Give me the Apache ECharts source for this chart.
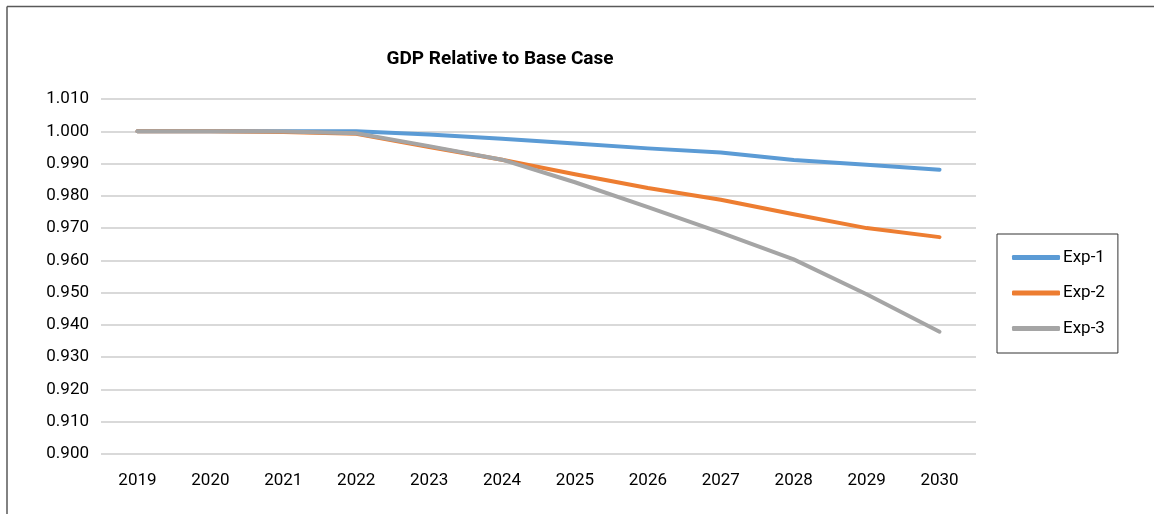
<!DOCTYPE html>
<html>
<head>
<meta charset="utf-8">
<script src="https://cdn.jsdelivr.net/npm/echarts@6/dist/echarts.min.js"></script>
<style>
  html, body { margin: 0; padding: 0; background: #ffffff; }
  #chart { width: 1154px; height: 514px; }
</style>
</head>
<body>
<div id="chart"></div>
<script>
// Years on the category axis
const years = ['2019', '2020', '2021', '2022', '2023', '2024', '2025', '2026', '2027', '2028', '2029', '2030'];

// GDP relative to the base case, per experiment
const exp1 = [1.000, 1.000, 1.000, 1.000, 0.999, 0.9977, 0.9962, 0.9947, 0.9934, 0.9911, 0.9896, 0.9881];
const exp2 = [1.000, 1.000, 0.9998, 0.9992, 0.9951, 0.9912, 0.9867, 0.9824, 0.9788, 0.9743, 0.970, 0.9672];
const exp3 = [1.000, 1.000, 0.9999, 0.9994, 0.9954, 0.9912, 0.9842, 0.9765, 0.9686, 0.9603, 0.9495, 0.9379];

const seriesNames = ['Exp-1', 'Exp-2', 'Exp-3'];
const seriesColors = ['#5b9bd5', '#ed7d31', '#a5a5a5'];

const FONT = 'Roboto, "Liberation Sans", sans-serif';

const chart = echarts.init(document.getElementById('chart'), null, { renderer: 'canvas' });

function lineSeries(name, data, color) {
  return {
    name: name,
    type: 'line',
    data: data,
    symbol: 'none',
    smooth: false,
    lineStyle: { color: color, width: 4, cap: 'round', join: 'round' },
    itemStyle: { color: color },
    emphasis: { disabled: true }
  };
}

chart.setOption({
  backgroundColor: '#ffffff',
  animation: false,
  title: {
    text: 'GDP Relative to Base Case',
    left: 495,
    textAlign: 'center',
    top: 45,
    textStyle: { fontFamily: FONT, fontWeight: 'bold', fontSize: 19, color: '#000000' }
  },
  grid: { left: 101, right: 178, top: 99, bottom: 60, containLabel: false },
  xAxis: {
    type: 'category',
    data: years,
    boundaryGap: true,
    axisLine: { show: false },
    axisTick: { show: false },
    axisLabel: { fontFamily: FONT, fontSize: 17, color: '#000000', margin: 18, interval: 0 }
  },
  yAxis: {
    type: 'value',
    min: 0.9,
    max: 1.01,
    interval: 0.01,
    axisLine: { show: false },
    axisTick: { show: false },
    splitLine: { lineStyle: { color: '#d9d9d9', width: 2 } },
    axisLabel: {
      fontFamily: FONT, fontSize: 17, color: '#000000', margin: 12,
      formatter: function (v) { return v.toFixed(3); }
    }
  },
  legend: {
    orient: 'vertical',
    left: 997,
    top: 234,
    padding: [15, 13, 16, 15],
    itemGap: 18.5,
    itemWidth: 48,
    itemHeight: 5,
    icon: 'roundRect',
    borderColor: '#333333',
    borderWidth: 1,
    data: seriesNames,
    textStyle: { fontFamily: FONT, fontSize: 17, lineHeight: 17, color: '#000000', padding: [0, 0, 0, -2] }
  },
  graphic: [
    { type: 'line', shape: { x1: 7, y1: 6.5, x2: 1154, y2: 6.5 }, style: { stroke: '#595959', lineWidth: 1.5 }, silent: true },
    { type: 'line', shape: { x1: 7, y1: 6.5, x2: 7, y2: 514 }, style: { stroke: '#595959', lineWidth: 1.5 }, silent: true }
  ],
  series: [
    lineSeries(seriesNames[0], exp1, seriesColors[0]),
    lineSeries(seriesNames[1], exp2, seriesColors[1]),
    lineSeries(seriesNames[2], exp3, seriesColors[2])
  ]
});
</script>
</body>
</html>
